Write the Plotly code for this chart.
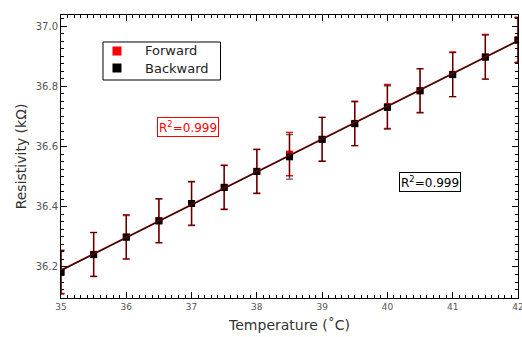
import numpy as np
import plotly.graph_objects as go

temps = [35, 35.5, 36, 36.5, 37, 37.5, 38, 38.5, 39, 39.5, 40, 40.5, 41, 41.5, 42]
forward = [36.184, 36.242, 36.300, 36.354, 36.411, 36.465, 36.518, 36.575, 36.624, 36.677, 36.733, 36.786, 36.840, 36.898, 36.955]
backward = [36.182, 36.241, 36.299, 36.353, 36.411, 36.464, 36.517, 36.566, 36.624, 36.676, 36.730, 36.785, 36.839, 36.897, 36.953]
forward_err = [0.072, 0.073, 0.074, 0.073, 0.072, 0.073, 0.073, 0.072, 0.073, 0.074, 0.073, 0.073, 0.074, 0.074, 0.075]
backward_err = [0.072, 0.073, 0.072, 0.073, 0.073, 0.073, 0.073, 0.074, 0.073, 0.073, 0.072, 0.073, 0.073, 0.073, 0.075]
series_names = ["Forward", "Backward"]
series_colors = ["red", "black"]
r2_forward = "R<sup>2</sup>=0.999"
r2_backward = "R<sup>2</sup>=0.999"

fit_f = np.polyfit(temps, forward, 1)
fit_b = np.polyfit(temps, backward, 1)
xfit = np.array([temps[0], temps[-1]])

FONT = "DejaVu Sans"
fig = go.Figure()

fig.add_trace(go.Scatter(
    x=temps, y=forward, mode="markers", name=series_names[0], showlegend=False,
    marker=dict(symbol="square", size=7, color="red"),
    error_y=dict(type="data", array=forward_err, color="red", thickness=1.4, width=3.5),
))
fig.add_trace(go.Scatter(
    x=temps, y=backward, mode="markers", name=series_names[1], showlegend=False,
    marker=dict(symbol="square", size=7, color="black"),
    error_y=dict(type="data", array=backward_err, color="rgba(0,0,0,0.65)", thickness=1.4, width=3.5),
))
fig.add_trace(go.Scatter(x=xfit, y=np.polyval(fit_f, xfit), mode="lines", showlegend=False,
                         line=dict(color="#a00000", width=1.6)))
fig.add_trace(go.Scatter(x=xfit, y=np.polyval(fit_b, xfit), mode="lines", showlegend=False,
                         line=dict(color="rgba(0,0,0,0.75)", width=1.2)))

# manual legend box
fig.add_shape(type="rect", xref="paper", yref="paper", x0=0.0919, x1=0.3490, y0=0.7703, y1=0.9046,
              line=dict(color="black", width=1), fillcolor="white", layer="above")
leg_y = [0.8728, 0.8127]
for name, col, yy in zip(series_names, series_colors, leg_y):
    fig.add_shape(type="rect", xref="paper", yref="paper", xsizemode="pixel", ysizemode="pixel",
                  xanchor=0.1225, yanchor=yy, x0=-4.5, x1=4.5, y0=-4.5, y1=4.5,
                  fillcolor=col, line=dict(width=0), layer="above")
    fig.add_annotation(xref="paper", yref="paper", x=0.1794, y=yy, xanchor="left", yanchor="middle",
                       text=name, showarrow=False, font=dict(size=13, color="#222222", family=FONT))

fig.add_annotation(x=36.94, y=36.665, text=r2_forward, showarrow=False,
                   font=dict(size=12, color="red", family=FONT),
                   bordercolor="red", borderwidth=1, borderpad=1, bgcolor="white")
fig.add_annotation(x=40.66, y=36.482, text=r2_backward, showarrow=False,
                   font=dict(size=12, color="black", family=FONT),
                   bordercolor="black", borderwidth=1, borderpad=1, bgcolor="white")

axis_common = dict(
    showline=True, linecolor="black", linewidth=1, mirror="allticks",
    ticks="inside", ticklen=6, tickcolor="black", tickwidth=1,
    showgrid=False, zeroline=False, ticklabeloverflow="allow", automargin=False,
)

fig.update_xaxes(range=[35, 42.0005], dtick=1, tick0=35,
                 tickfont=dict(size=9, color="#555555", family=FONT),
                 minor=dict(dtick=0.1, ticks="inside", ticklen=3, tickcolor="black", showgrid=False),
                 title=dict(text="Temperature (˚C)", font=dict(size=14, color="#333333", family=FONT), standoff=9),
                 **axis_common)
fig.update_yaxes(range=[36.097, 37.037], dtick=0.2, tick0=36.2, tickformat=".1f",
                 tickfont=dict(size=10, color="#555555", family=FONT),
                 minor=dict(dtick=0.025, ticks="inside", ticklen=3, tickcolor="black", showgrid=False),
                 title=dict(text="Resistivity (kΩ)", font=dict(size=14, color="#333333", family=FONT), standoff=5),
                 **axis_common)

fig.update_layout(
    width=522, height=337,
    margin=dict(l=61, r=4, t=15, b=39),
    plot_bgcolor="white", paper_bgcolor="white",
    font=dict(family=FONT),
    showlegend=False,
)

fig.write_html("out.html")
